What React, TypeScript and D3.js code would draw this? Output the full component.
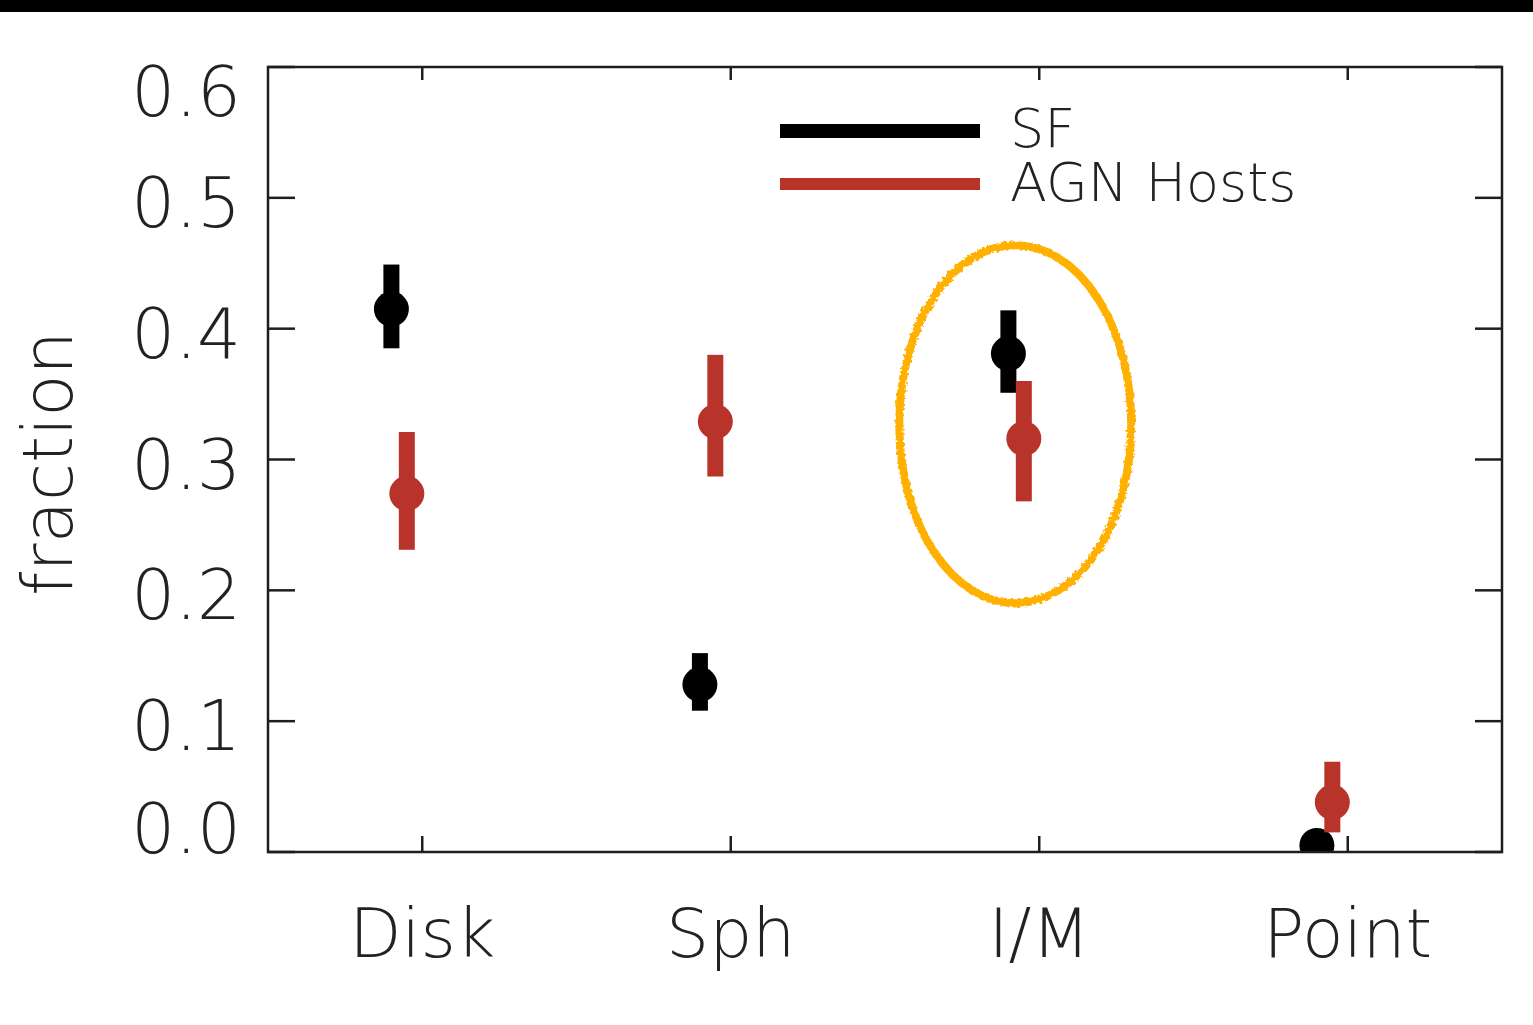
import React, { useMemo } from "react";
import * as d3 from "d3";

// Morphology categories along the x axis
const categories = ["Disk", "Sph", "I/M", "Point"];

// Star-forming galaxies: fraction and error-bar bounds
const sfValue = [0.415, 0.128, 0.381, 0.005];
const sfLow = [0.385, 0.108, 0.351, 0.0];
const sfHigh = [0.449, 0.152, 0.414, 0.01];

// AGN host galaxies: fraction and error-bar bounds
const agnValue = [0.274, 0.329, 0.316, 0.038];
const agnLow = [0.231, 0.287, 0.268, 0.015];
const agnHigh = [0.321, 0.38, 0.36, 0.069];

const yTicks = [0.0, 0.1, 0.2, 0.3, 0.4, 0.5, 0.6];
const legendLabels = ["SF", "AGN Hosts"];

const W = 1533;
const H = 1025;
const THIN = "'DejaVu Sans', sans-serif";
const RED = "#b8342b";
const FRAME = "#1e1e1e";
const INK = "#222";

export default function App() {
  const x = useMemo(
    () => d3.scaleLinear().domain([0.5, categories.length + 0.5]).range([268, 1502]),
    []
  );
  const y = useMemo(() => d3.scaleLinear().domain([0, 0.6]).range([852, 67]), []);

  const [x0, x1] = x.range();
  const [y0, y1] = y.range();

  const series = [
    { key: "sf", color: "#000", offset: -0.1, value: sfValue, low: sfLow, high: sfHigh },
    { key: "agn", color: RED, offset: -0.05, value: agnValue, low: agnLow, high: agnHigh },
  ];

  const barW = 16;
  const dotR = 17.5;

  // tick labels at the ends of the axis sit inside the frame
  const labelCenter = (v: number) => {
    if (v === 0.6) return y(v) + 24;
    if (v === 0) return y(v) - 24;
    return y(v) + 4;
  };

  // hand-drawn highlight around the I/M pair
  const hx = x(3) - 24;
  const hy = y(0.327);

  return (
    <svg
      width={W}
      height={H}
      style={{ position: "absolute", left: 0, top: 0, background: "#fff" }}
    >
      <defs>
        <clipPath id="plot-area">
          <rect x={x0} y={y1} width={x1 - x0} height={y0 - y1} />
        </clipPath>
        <filter id="rough" x="-10%" y="-10%" width="120%" height="120%">
          <feTurbulence type="fractalNoise" baseFrequency="0.3" numOctaves="2" seed="4" result="n" />
          <feDisplacementMap in="SourceGraphic" in2="n" scale="5" />
          <feGaussianBlur stdDeviation="0.7" />
        </filter>
      </defs>

      <rect x={0} y={0} width={W} height={12} fill="#000" />

      {/* markers with error bars */}
      <g clipPath="url(#plot-area)">
        {series.map((s) =>
          categories.map((c, i) => {
            const cx = x(i + 1 + s.offset);
            return (
              <g key={`${s.key}-${c}`}>
                <rect
                  x={cx - barW / 2}
                  y={y(s.high[i])}
                  width={barW}
                  height={y(s.low[i]) - y(s.high[i])}
                  fill={s.color}
                />
                <circle cx={cx} cy={y(s.value[i])} r={dotR} fill={s.color} />
              </g>
            );
          })
        )}
      </g>

      {/* frame */}
      <rect
        x={x0}
        y={y1}
        width={x1 - x0}
        height={y0 - y1}
        fill="none"
        stroke={FRAME}
        strokeWidth={2.5}
      />

      {/* y ticks on both sides */}
      {yTicks.map((v) => (
        <g key={`yt-${v}`}>
          <line x1={x0} x2={x0 + 27} y1={y(v)} y2={y(v)} stroke={FRAME} strokeWidth={2.5} />
          <line x1={x1 - 27} x2={x1} y1={y(v)} y2={y(v)} stroke={FRAME} strokeWidth={2.5} />
          <text
            x={241}
            y={labelCenter(v) + 25}
            textAnchor="end"
            fontFamily={THIN}
            fontSize={69}
            fontWeight={200}
            fill={INK}
          >
            {v.toFixed(1)}
          </text>
        </g>
      ))}

      {/* x ticks top and bottom */}
      {categories.map((c, i) => (
        <g key={`xt-${c}`}>
          <line x1={x(i + 1)} x2={x(i + 1)} y1={y0} y2={y0 - 16} stroke={FRAME} strokeWidth={2.5} />
          <line x1={x(i + 1)} x2={x(i + 1)} y1={y1} y2={y1 + 13} stroke={FRAME} strokeWidth={2.5} />
          <text
            x={x(i + 1)}
            y={957}
            textAnchor="middle"
            fontFamily={THIN}
            fontSize={68}
            fontWeight={200}
            fill={INK}
          >
            {c}
          </text>
        </g>
      ))}

      {/* y axis title */}
      <text
        transform={`translate(72, ${y(0.297)}) rotate(-90)`}
        textAnchor="middle"
        fontFamily={THIN}
        fontSize={69}
        fontWeight={200}
        fill={INK}
      >
        fraction
      </text>

      {/* legend */}
      <line x1={780} x2={980} y1={131} y2={131} stroke="#000" strokeWidth={14} />
      <line x1={780} x2={980} y1={184} y2={184} stroke={RED} strokeWidth={12} />
      <text x={1010} y={147} fontFamily={THIN} fontSize={54} fontWeight={200} fill={INK}>
        {legendLabels[0]}
      </text>
      <text x={1010} y={201} fontFamily={THIN} fontSize={54} fontWeight={200} fill={INK}>
        {legendLabels[1]}
      </text>

      {/* highlight */}
      <ellipse
        cx={hx}
        cy={hy}
        rx={116}
        ry={179}
        fill="none"
        stroke="#ffb000"
        strokeWidth={8}
        filter="url(#rough)"
      />
    </svg>
  );
}
